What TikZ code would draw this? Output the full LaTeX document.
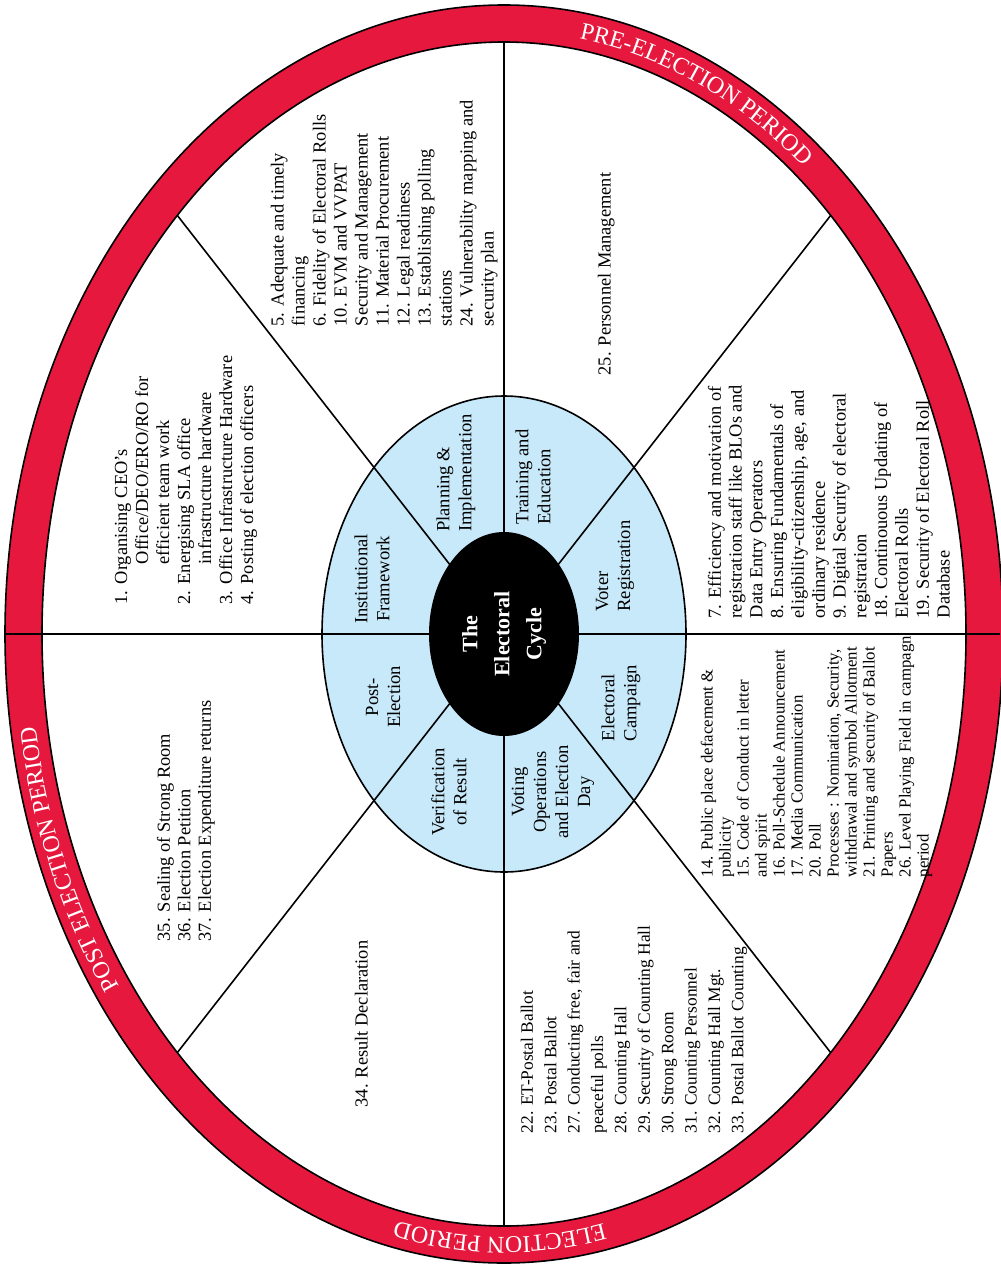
\documentclass[tikz,border=0pt]{standalone}
\usepackage{fontspec}
\setmainfont{Liberation Serif}
\usetikzlibrary{shapes.geometric,decorations.text}

\definecolor{ringred}{RGB}{230,24,62}
\definecolor{phaseblue}{RGB}{200,233,249}
\newcommand{\ringfont}{\fontsize{12}{12}\selectfont\color{white}}

\begin{document}
\begin{tikzpicture}[x=0.5pt,y=-0.5pt,thick,
        phase/.style={rotate=90,align=center,inner sep=0pt,font=\fontsize{9.3}{11}\selectfont},
        item list/.style={rotate=90,anchor=north west,align=left,inner sep=0pt,font=\fontsize{9.2}{10.5}\selectfont},
        hub/.style={ellipse,fill=black,text=white,rotate=90,minimum width=102pt,minimum height=75pt,
            align=center,inner sep=0pt,font=\fontsize{11}{16}\selectfont\bfseries},
        period/.style={decorate,decoration={text along path,text align=center,text={|\ringfont|#1}}}]
        \useasboundingbox (0,0) rectangle (1001,1264);
        \coordinate (o) at (504,634);

        % phases and the band round them
        \filldraw[fill=phaseblue] (o) ellipse [x radius=182,y radius=238];
        \fill[ringred,even odd rule] (o) ellipse [x radius=499,y radius=629]
            (o) ellipse [x radius=462,y radius=592];
        \draw (o) ellipse [x radius=499,y radius=629];
        \draw (o) ellipse [x radius=462,y radius=592];

        \coordinate (rimN) at (504,42);
        \coordinate (rimS) at (504,1226);
        \coordinate (rimW) at (4,634);
        \coordinate (rimE) at (1000,634);
        \foreach \a/\n in {-45/NE,-135/NW,45/SE,135/SW}
            \coordinate (rim\n) at ([shift={(\a:462 and 592)}]o);
        \path
        (rimN) edge (rimS)
        (rimW) edge (rimE)
        (rimNW) edge (rimSE)
        (rimNE) edge (rimSW)
        ;

        \node[hub] (hub) at (o) {The\\Electoral\\Cycle};

        \node[phase] (inst) at (372,579) {Institutional\\Framework};
        \node[phase,align=left] (plan) at (456,473) {Planning \&\\Implementation};
        \node[phase,align=left] (train) at (533,477) {Training and\\Education};
        \node[phase,align=left] (voter) at (615,566) {Voter\\Registration};
        \node[phase,align=left] (camp) at (621,703) {Electoral\\Campaign};
        \node[phase] (vote) at (553,792) {Voting\\Operations\\and Election\\Day};
        \node[phase] (verif) at (449,792) {Verification\\of Result};
        \node[phase] (post) at (383,697) {Post-\\Election};

        \node[item list] (inst list) at (114,605) {1. Organising CEO's\\
            \hspace*{20pt}Office/DEO/ERO/RO for\\
            \hspace*{20pt}efficient team work\\
            2. Energising SLA office\\
            \hspace*{20pt}infrastructure hardware\\
            3. Office Infrastructure Hardware\\
            4. Posting of election officers};
        \node[item list] (plan list) at (270,327) {5. Adequate and timely\\financing\\
            6. Fidelity of Electoral Rolls\\10. EVM and VVPAT\\Security and Management\\
            11. Material Procurement\\12. Legal readiness\\13. Establishing polling\\stations\\
            24. Vulnerability mapping and\\security plan};
        \node[item list] (train list) at (597,376) {25. Personnel Management};
        \node[item list,font=\fontsize{9.2}{10.4}\selectfont] (voter list) at (707,619) {7. Efficiency and motivation of\\
            registration staff like BLOs and\\Data Entry Operators\\8. Ensuring Fundamentals of\\
            eligibility-citizenship, age, and\\ordinary residence\\9. Digital Security of electoral\\
            registration\\18. Continouous Updating of\\Electoral Rolls\\19. Security of Electoral Roll\\Database};
        \node[item list,font=\fontsize{8.4}{9}\selectfont] (camp list) at (700,878) {14. Public place defacement \&\\
            publicity\\15. Code of Conduct in letter\\and spirit\\16. Poll-Schedule Announcement\\
            17. Media Communication\\20. Poll\\Processes : Nomination, Security,\\
            withdrawal and symbol Allotment\\21. Printing and security of Ballot\\Papers\\
            26. Level Playing Field in campagn\\period};
        \node[item list,font=\fontsize{8.7}{11.7}\selectfont] (vote list) at (520,1134) {22. ET-Postal Ballot\\
            23. Postal Ballot\\27. Conducting free, fair and\\peaceful polls\\28. Counting Hall\\
            29. Security of Counting Hall\\30. Strong Room\\31. Counting Personnel\\
            32. Counting Hall Mgt.\\33. Postal Ballot Counting};
        \node[item list] (verif list) at (354,1108) {34. Result Declaration};
        \node[item list,font=\fontsize{9.2}{10.25}\selectfont] (post list) at (156,942) {35. Sealing of Strong Room\\
            36. Election Petition\\37. Election Expenditure returns};

        % band titles
        \path[period={PRE-ELECTION PERIOD}] ([shift={(-84:474 and 603)}]o)
            arc[start angle=-84,end angle=-48,x radius=474,y radius=603];
        \path[period={POST ELECTION PERIOD}] ([shift={(138:474 and 603)}]o)
            arc[start angle=138,end angle=177,x radius=474,y radius=603];
        \path[period={ELECTION PERIOD}] ([shift={(70:474 and 603)}]o)
            arc[start angle=70,end angle=111,x radius=474,y radius=603];
\end{tikzpicture}
\end{document}
